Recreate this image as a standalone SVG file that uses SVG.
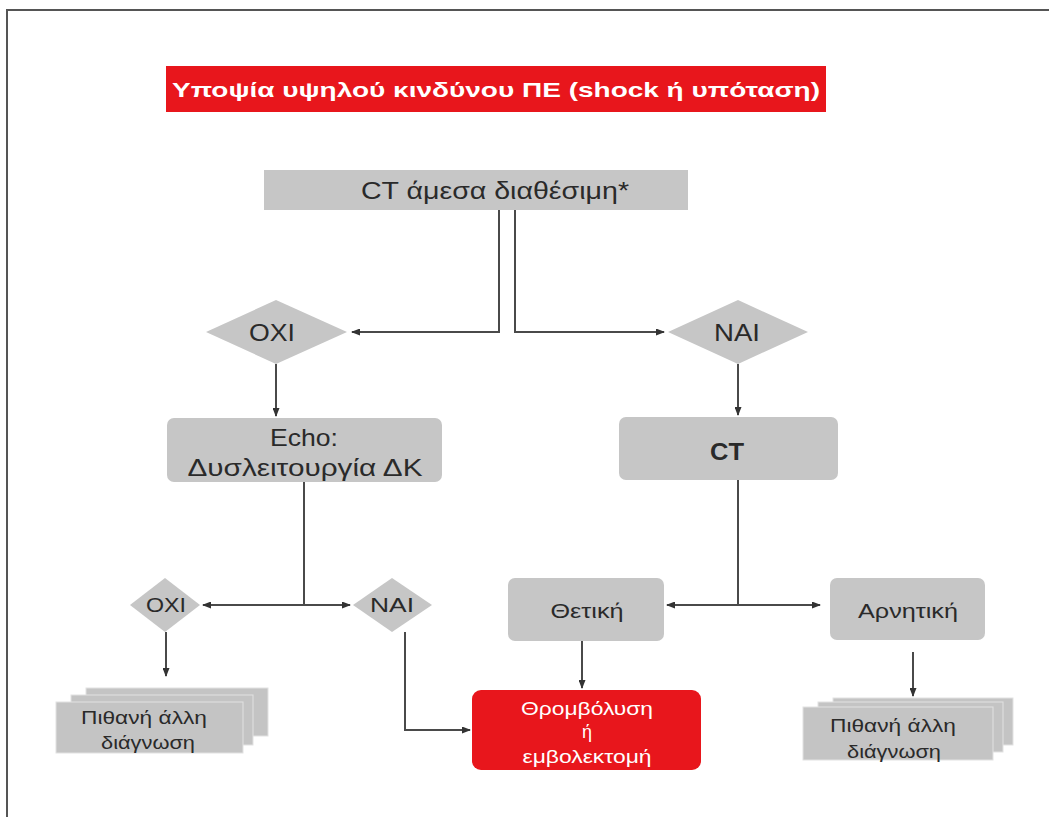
<svg xmlns="http://www.w3.org/2000/svg" width="1049" height="817" viewBox="0 0 1049 817">
<style>
.box{fill:#c6c6c6}
.red{fill:#e8161c}
.t{font-family:"Liberation Sans",Arial,sans-serif;fill:#2a2a2a;text-anchor:middle;dominant-baseline:central}
.w{fill:#fff}
.ln{fill:none;stroke:#4a4a4a;stroke-width:2}
.lay{fill:#c4c4c4;stroke:#e2e2e2;stroke-width:1}
</style>
<defs>
<marker id="ah" markerWidth="9" markerHeight="7" refX="8" refY="3.5" orient="auto" markerUnits="userSpaceOnUse">
<path d="M0,0 L9,3.5 L0,7 z" fill="#333"/>
</marker>
</defs>
<rect x="0" y="0" width="1049" height="817" fill="#fff"/>
<path d="M7 817 V10 H1049" fill="none" stroke="#555" stroke-width="2"/>

<g id="title">
<rect x="166" y="66" width="660" height="46" class="red"/>
<text x="496" y="89" class="t w" font-size="21" font-weight="bold" textLength="648" lengthAdjust="spacingAndGlyphs">Υποψία υψηλού κινδύνου ΠΕ (shock ή υπόταση)</text>
</g>

<g id="ct-available">
<rect x="264" y="170" width="424" height="40" class="box"/>
<text x="495" y="190" class="t" font-size="24" textLength="268" lengthAdjust="spacingAndGlyphs">CT άμεσα διαθέσιμη*</text>
</g>

<g id="oxi1">
<polygon points="206,332 276,300 347,332 276,364" class="box"/>
<text x="272" y="332" class="t" font-size="24" textLength="46" lengthAdjust="spacingAndGlyphs">OXI</text>
</g>

<g id="nai1">
<polygon points="668,332 738,300 808,332 738,364" class="box"/>
<text x="737" y="332" class="t" font-size="24" textLength="46" lengthAdjust="spacingAndGlyphs">NAI</text>
</g>

<g id="echo">
<rect x="167" y="418" width="275" height="64" rx="7" class="box"/>
<text x="304" y="437" class="t" font-size="24" textLength="68" lengthAdjust="spacingAndGlyphs">Echo:</text>
<text x="305" y="467" class="t" font-size="24" textLength="235" lengthAdjust="spacingAndGlyphs">Δυσλειτουργία ΔΚ</text>
</g>

<g id="ct">
<rect x="619" y="417" width="219" height="63" rx="7" class="box"/>
<text x="727" y="451" class="t" font-size="24" font-weight="bold" textLength="34" lengthAdjust="spacingAndGlyphs">CT</text>
</g>

<g id="oxi2">
<polygon points="130,605 165,578 200,605 165,632" class="box"/>
<text x="166" y="605" class="t" font-size="20" textLength="40" lengthAdjust="spacingAndGlyphs">OXI</text>
</g>

<g id="nai2">
<polygon points="353,605 392,578 432,605 392,632" class="box"/>
<text x="392" y="605" class="t" font-size="20" textLength="44" lengthAdjust="spacingAndGlyphs">NAI</text>
</g>

<g id="positive">
<rect x="508" y="578" width="156" height="63" rx="7" class="box"/>
<text x="587" y="611" class="t" font-size="20" textLength="73" lengthAdjust="spacingAndGlyphs">Θετική</text>
</g>

<g id="negative">
<rect x="830" y="578" width="155" height="62" rx="7" class="box"/>
<text x="908" y="611" class="t" font-size="20" textLength="100" lengthAdjust="spacingAndGlyphs">Αρνητική</text>
</g>

<g id="alt-left">
<rect x="86" y="688" width="182" height="48" class="lay"/>
<rect x="71" y="695" width="182" height="50" class="lay"/>
<rect x="56" y="702" width="187" height="51" class="lay"/>
<text x="144" y="717" class="t" font-size="19" textLength="126" lengthAdjust="spacingAndGlyphs">Πιθανή άλλη</text>
<text x="148" y="742" class="t" font-size="19" textLength="94" lengthAdjust="spacingAndGlyphs">διάγνωση</text>
</g>

<g id="treatment">
<rect x="472" y="690" width="229" height="80" rx="9" class="red"/>
<text x="587" y="709" class="t w" font-size="18" textLength="132" lengthAdjust="spacingAndGlyphs">Θρομβόλυση</text>
<text x="587" y="732" class="t w" font-size="18">ή</text>
<text x="587" y="757" class="t w" font-size="18" textLength="129" lengthAdjust="spacingAndGlyphs">εμβολεκτομή</text>
</g>

<g id="alt-right">
<rect x="833" y="698" width="180" height="47" class="lay"/>
<rect x="818" y="702" width="185" height="50" class="lay"/>
<rect x="803" y="707" width="190" height="53" class="lay"/>
<text x="893" y="725" class="t" font-size="19" textLength="126" lengthAdjust="spacingAndGlyphs">Πιθανή άλλη</text>
<text x="894" y="751" class="t" font-size="19" textLength="94" lengthAdjust="spacingAndGlyphs">διάγνωση</text>
</g>

<g id="connectors">
<path class="ln" d="M499 210 V332 H352" marker-end="url(#ah)"/>
<path class="ln" d="M515 210 V332 H664" marker-end="url(#ah)"/>
<path class="ln" d="M276 364 V416" marker-end="url(#ah)"/>
<path class="ln" d="M738 364 V415" marker-end="url(#ah)"/>
<path class="ln" d="M304 482 V605"/>
<path class="ln" d="M304 605 H203" marker-end="url(#ah)"/>
<path class="ln" d="M304 605 H350" marker-end="url(#ah)"/>
<path class="ln" d="M738 480 V605"/>
<path class="ln" d="M738 605 H667" marker-end="url(#ah)"/>
<path class="ln" d="M738 605 H820" marker-end="url(#ah)"/>
<path class="ln" d="M166 632 V676" marker-end="url(#ah)"/>
<path class="ln" d="M405 632 V730 H470" marker-end="url(#ah)"/>
<path class="ln" d="M582 641 V688" marker-end="url(#ah)"/>
<path class="ln" d="M913 652 V696" marker-end="url(#ah)"/>
</g>
</svg>
